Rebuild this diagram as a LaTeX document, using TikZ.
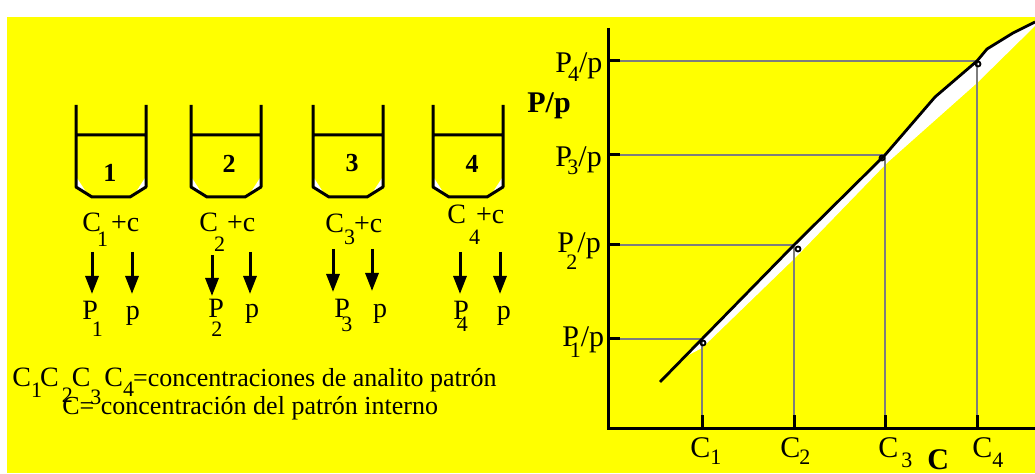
\documentclass[tikz,border=0pt]{standalone}
\usepackage{fontspec}
\setmainfont{Liberation Serif}
\usepackage{tikz}
\usetikzlibrary{positioning}
\usetikzlibrary{arrows.meta}
\definecolor{fondo}{RGB}{255,255,0}
\definecolor{gris}{RGB}{125,125,125}
\newcommand{\lo}[3]{\kern#1pt\raisebox{-#2pt}{\fontsize{11}{12}\selectfont #3}}

\begin{document}
\begin{tikzpicture}[x=0.5pt, y=-0.5pt,
    vaso/.style={line width=1.5pt, line join=round},
    brillo/.style={fill=white},
    flecha/.style={line width=1.5pt, -{Triangle[length=9pt,width=6.5pt]}},
    eje/.style={line width=1.5pt},
    guia/.style={draw=gris, line width=1.4pt},
    curva/.style={line width=1.4pt, line join=round},
    marca/.style={line width=0.9pt},
    rotulo/.style={inner sep=0pt, font=\fontsize{14}{16}\selectfont},
    grande/.style={inner sep=0pt, font=\fontsize{15}{18}\selectfont},
    negrita/.style={inner sep=0pt, font=\fontsize{15}{18}\selectfont\bfseries},
    cifra/.style={inner sep=0pt, font=\fontsize{13}{15}\selectfont\bfseries},
    leyenda/.style={inner sep=0pt, font=\fontsize{13}{15}\selectfont}]

    \useasboundingbox (0,0) rectangle (1035,474);
    \fill[fondo] (7,17) rectangle (1035,473);

    % vasos
    \fill[brillo] (77,178) -- (77,189) -- (88,195) -- cycle;
    \fill[brillo] (145,178) -- (145,189) -- (134,195) -- cycle;
    \draw[vaso] (76,105) -- (76,187) -- (92,197) -- (130,197) -- (146,187) -- (146,105) (76,135) -- (146,135);
    \fill[brillo] (192,178) -- (192,189) -- (203,195) -- cycle;
    \fill[brillo] (260,178) -- (260,189) -- (249,195) -- cycle;
    \draw[vaso] (191,105) -- (191,187) -- (207,197) -- (245,197) -- (261,187) -- (261,105) (191,135) -- (261,135);
    \fill[brillo] (314,178) -- (314,189) -- (325,195) -- cycle;
    \fill[brillo] (382,178) -- (382,189) -- (371,195) -- cycle;
    \draw[vaso] (313,105) -- (313,187) -- (329,197) -- (367,197) -- (383,187) -- (383,105) (313,135) -- (383,135);
    \fill[brillo] (434,178) -- (434,189) -- (445,195) -- cycle;
    \fill[brillo] (502,178) -- (502,189) -- (491,195) -- cycle;
    \draw[vaso] (433,105) -- (433,187) -- (449,197) -- (487,197) -- (503,187) -- (503,105) (433,135) -- (503,135);

    \node[cifra, anchor=base] (n1) at (110,182) {1};
    \node[cifra, anchor=base] (n2) at (229,173) {2};
    \node[cifra, anchor=base] (n3) at (352,172) {3};
    \node[cifra, anchor=base] (n4) at (472,173) {4};

    \node[rotulo, anchor=base west] (c1) at (82,232) {C\lo{-2}{7.5}{1}\kern1.5pt+c};
    \node[rotulo, anchor=base west] (c2) at (199,232) {C\lo{-2}{10}{2}\kern1pt+c};
    \node[rotulo, anchor=base west] (c3) at (325,233) {C\lo{0}{6}{3}\kern-0.5pt+c};
    \node[rotulo, anchor=base west] (c4) at (447,224) {C\lo{1.5}{10.5}{4}\kern-2pt+c};

    \node[rotulo, anchor=base west] (P1) at (82,320) {P\lo{-3}{8.5}{1}};
    \node[rotulo, base right=11pt of P1] (q1) {p};
    \node[rotulo, anchor=base west] (P2) at (208,318) {P\lo{-6.3}{9.5}{2}};
    \node[rotulo, base right=11pt of P2] (q2) {p};
    \node[rotulo, anchor=base west] (P3) at (334,318) {P\lo{-4.3}{7}{3}};
    \node[rotulo, base right=10pt of P3] (q3) {p};
    \node[rotulo, anchor=base west] (P4) at (453,320) {P\lo{-6}{6}{4}};
    \node[rotulo, base right=14pt of P4] (q4) {p};

    \coordinate (in1) at (92,252);   \coordinate (fin1) at (92,294);
    \coordinate (inq1) at (132,252); \coordinate (finq1) at (132,294);
    \coordinate (in2) at (212,255);  \coordinate (fin2) at (212,296);
    \coordinate (inq2) at (250,252); \coordinate (finq2) at (250,294);
    \coordinate (in3) at (333,249);  \coordinate (fin3) at (333,292);
    \coordinate (inq3) at (372,249); \coordinate (finq3) at (372,291);
    \coordinate (in4) at (460,252);  \coordinate (fin4) at (460,294);
    \coordinate (inq4) at (500,252); \coordinate (finq4) at (500,294);
    \draw[flecha] (in1) -- (fin1);
    \draw[flecha] (inq1) -- (finq1);
    \draw[flecha] (in2) -- (fin2);
    \draw[flecha] (inq2) -- (finq2);
    \draw[flecha] (in3) -- (fin3);
    \draw[flecha] (inq3) -- (finq3);
    \draw[flecha] (in4) -- (fin4);
    \draw[flecha] (inq4) -- (finq4);

    \node[leyenda, anchor=base west] (ley1) at (12,387) {{\fontsize{14}{16}\selectfont C\lo{0}{5.5}{1}\kern-1pt C\lo{1.5}{8}{2}\kern-0.5pt C\lo{0}{9}{3}\kern1.5pt C\lo{0}{5}{4}}\kern-0.5pt=concentraciones de analito patrón};
    \node[leyenda, anchor=base west] (ley2) at (62,415) {C= concentración del patrón interno};

    % grafica
    \coordinate (o) at (608,429);
    \coordinate (ytop) at (608,28);
    \coordinate (xfin) at (1035,429);
    \coordinate (pt1) at (702,339);
    \coordinate (pt2) at (794,245);
    \coordinate (pt3) at (885,155);
    \coordinate (pt4) at (977,61);

    \fill[white] (683,358) -- (pt1) -- (pt2) -- (pt3) -- (935,97) -- (pt4) -- (987,49) -- (1013,33) -- (1035,22)
        -- (1035,26) -- (977,83) -- (887,163) -- (796,257) -- (702,348) -- cycle;

    \draw[guia] (o |- pt1) -- (pt1) -- (pt1 |- o);
    \draw[guia] (o |- pt2) -- (pt2) -- (pt2 |- o);
    \draw[guia] (o |- pt3) -- (pt3) -- (pt3 |- o);
    \draw[guia] (o |- pt4) -- (pt4) -- (pt4 |- o);

    \draw[curva] (660,382) -- (pt1) -- (pt2) -- (pt3) -- (935,97) -- (pt4) -- (987,49) -- (1013,33) -- (1035,22);

    \draw[eje] (ytop) -- (o) -- (xfin);
    \draw[eje] (o |- pt1) -- ++(12,0);
    \draw[eje] (o |- pt2) -- ++(12,0);
    \draw[eje] (o |- pt3) -- ++(12,0);
    \draw[eje] (o |- pt4) -- ++(12,0);
    \draw[eje] (pt1 |- o) -- ++(0,-14);
    \draw[eje] (pt2 |- o) -- ++(0,-14);
    \draw[eje] (pt3 |- o) -- ++(0,-14);
    \draw[eje] (pt4 |- o) -- ++(0,-14);

    \draw[marca] (703,343) circle[radius=2.5];
    \draw[marca] (798,249) circle[radius=2.5];
    \draw[marca] (882,158) circle[radius=2.5];
    \draw[marca] (978,64) circle[radius=2.5];

    \node[grande, anchor=base west] (l4) at (555,73) {P\lo{-2}{4.5}{4}/p};
    \node[grande, anchor=base west] (l3) at (555,167) {P\lo{-2.3}{4}{3}/p};
    \node[grande, anchor=base west] (l2) at (557,253) {P\lo{-3.8}{8.5}{2}/p};
    \node[grande, anchor=base west] (l1) at (562,347) {P\lo{-4.6}{5.5}{1}/p};
    \node[negrita, anchor=base west] (yt) at (527,113) {P/p};

    \node[grande, anchor=base west] (x1) at (690,458) {C\lo{0}{3.5}{1}};
    \node[grande, anchor=base west] (x2) at (780,458) {C\lo{-0.5}{3.5}{2}};
    \node[grande, anchor=base west] (x3) at (878,458) {C\lo{1.5}{5}{3}};
    \node[grande, anchor=base west] (x4) at (972,458) {C\lo{0}{5}{4}};
    \node[negrita, anchor=base west] (xt) at (927,470) {C};
\end{tikzpicture}
\end{document}
